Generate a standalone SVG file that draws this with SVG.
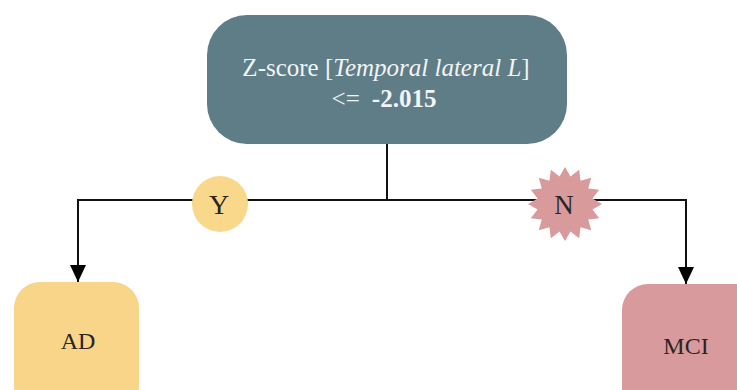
<svg xmlns="http://www.w3.org/2000/svg" width="737" height="390" viewBox="0 0 737 390">
<style>
.lbl{font-family:"Liberation Serif","Times New Roman",serif;fill:#2b2520;text-anchor:middle}
.ttl{font-family:"Liberation Serif","Times New Roman",serif;fill:#f2f4f5;text-anchor:middle;font-size:25px}
.edge{stroke:#111;stroke-width:2;fill:none}
</style>
<defs>
<marker id="arrow" viewBox="0 0 17 16" refX="17" refY="8" markerWidth="17" markerHeight="16" markerUnits="userSpaceOnUse" orient="auto">
<path d="M0,0 L17,8 L0,16 Z" fill="#000"/>
</marker>
</defs>
<rect width="737" height="390" fill="#ffffff"/>
<g id="connectors">
<path class="edge" d="M387,143 V200"/>
<path class="edge" d="M387,200 H78 V282" marker-end="url(#arrow)"/>
<path class="edge" d="M387,200 H686 V284" marker-end="url(#arrow)"/>
</g>
<g id="root">
<rect x="207" y="15" width="360" height="129" rx="40" ry="40" fill="#5e7d86"/>
<text class="ttl" x="386" y="76">Z-score [<tspan font-style="italic">Temporal lateral L</tspan>]</text>
<text class="ttl" x="384" y="107">&lt;=<tspan dx="12" font-weight="bold">-2.015</tspan></text>
</g>
<g id="yes">
<circle cx="220" cy="204" r="28" fill="#f9d88b"/>
<text class="lbl" x="219" y="214" font-size="28">Y</text>
</g>
<g id="no">
<polygon fill="#d99a9c" points="565,167 570.46,176.54 579.16,169.82 580.56,180.72 591.16,177.84 588.28,188.44 599.18,189.84 592.46,198.54 602,204 592.46,209.46 599.18,218.16 588.28,219.56 591.16,230.16 580.56,227.28 579.16,238.18 570.46,231.46 565,241 559.54,231.46 550.84,238.18 549.44,227.28 538.84,230.16 541.72,219.56 530.82,218.16 537.54,209.46 528,204 537.54,198.54 530.82,189.84 541.72,188.44 538.84,177.84 549.44,180.72 550.84,169.82 559.54,176.54"/>
<text class="lbl" x="564" y="214" font-size="27">N</text>
</g>
<g id="ad">
<rect x="14" y="282" width="125" height="130" rx="26" ry="26" fill="#f9d58a"/>
<text class="lbl" x="78" y="349" font-size="24">AD</text>
</g>
<g id="mci">
<rect x="622" y="284" width="140" height="130" rx="26" ry="26" fill="#d99a9d"/>
<text class="lbl" x="686" y="354" font-size="24">MCI</text>
</g>
</svg>
